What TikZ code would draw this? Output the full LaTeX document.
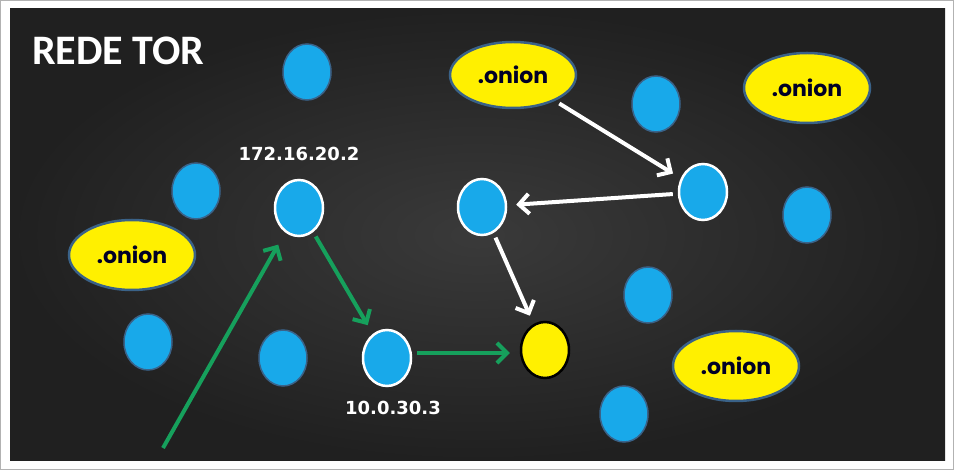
\documentclass[tikz,border=0pt]{standalone}
\usepackage{fontspec}
\setmainfont{Carlito}
\newfontfamily\onionfont{Poppins}
\newfontfamily\ipfont{DejaVu Sans}
\usetikzlibrary{shapes.geometric,arrows.meta,positioning}
\definecolor{nodeblue}{RGB}{24,169,234}
\definecolor{rimblue}{RGB}{58,98,136}
\definecolor{onionyellow}{RGB}{255,240,0}
\definecolor{pathgreen}{RGB}{22,160,92}
\definecolor{bgmid}{RGB}{58,58,58}
\definecolor{bgedge}{RGB}{32,32,32}
\tikzset{>={Straight Barb[length=10pt,width=20pt]}}
\tikzset{
  relay/.style={ellipse,fill=nodeblue,draw=rimblue,line width=1.5pt,minimum width=48pt,minimum height=56pt,inner sep=0pt},
  hop/.style={relay,draw=white,line width=2.5pt},
  target/.style={relay,fill=onionyellow,draw=black,line width=2.5pt},
  onion/.style={ellipse,fill=onionyellow,draw=rimblue,line width=2.5pt,minimum width=126pt,minimum height=70pt,inner sep=0pt,
    text=black!85!blue,font=\onionfont\bfseries\fontsize{22}{24}\selectfont},
  iplabel/.style={inner sep=0pt,text=white,font=\ipfont\bfseries\fontsize{18}{20}\selectfont},
  greenpath/.style={->,line width=4pt,draw=pathgreen,shorten <=5pt,shorten >=10pt},
  whitepath/.style={->,line width=4pt,draw=white,shorten <=5pt,shorten >=9pt}
}

\begin{document}
\begin{tikzpicture}[x=1pt,y=-1pt]
        \useasboundingbox (0,0) rectangle (954,470);
        % frame and background
        \fill [white] (0,0) rectangle (954,470);
        \draw [gray!60,line width=1pt] (0.5,0.5) rectangle (953.5,469.5);
        \shade [inner color=bgmid,outer color=bgedge] (10,9) rectangle (945,461);
        \node [anchor=base west,inner sep=0pt,text=white,font=\bfseries\fontsize{42}{44}\selectfont] (title) at (32,65) {REDE TOR};
        % plain relays
        \node [relay] (r1) at (307,72) {};
        \node [relay] (r2) at (196,191) {};
        \node [relay] (r3) at (148,342) {};
        \node [relay] (r4) at (283,358) {};
        \node [relay] (r5) at (656,104) {};
        \node [relay] (r6) at (807,215) {};
        \node [relay] (r7) at (648,295) {};
        \node [relay] (r8) at (624,414) {};
        % hidden services
        \node [onion,minimum height=66pt] (on1) at (513,75) {.onion};
        \node [onion] (on2) at (807,88) {.onion};
        \node [onion] (on3) at (132,255) {.onion};
        \node [onion] (on4) at (736,366) {.onion};
        % circuit
        \node [hop] (guard) at (299,208) {};
        \node [hop] (mid) at (387,358) {};
        \node [hop] (hsa) at (482,207) {};
        \node [hop] (hsb) at (703,192) {};
        \node [target] (meet) at (545,350) {};
        \node [iplabel,above=18pt of guard] (ipguard) {172.16.20.2};
        \node [iplabel,below=14pt of mid,xshift=6pt] (ipmid) {10.0.30.3};
        \coordinate (src) at (163,448);
        \draw [greenpath,shorten <=0pt,shorten >=14pt] (src) -- (guard);
        \draw [greenpath] (guard) -- (mid);
        \draw [greenpath] ([yshift=5pt]mid.east) -- ([yshift=5pt]mid.east -| meet.west);
        \draw [whitepath] (on1) -- (hsb);
        \draw [whitepath] (hsb) -- (hsa);
        \draw [whitepath] (hsa) -- (meet);
      \end{tikzpicture}
\end{document}
